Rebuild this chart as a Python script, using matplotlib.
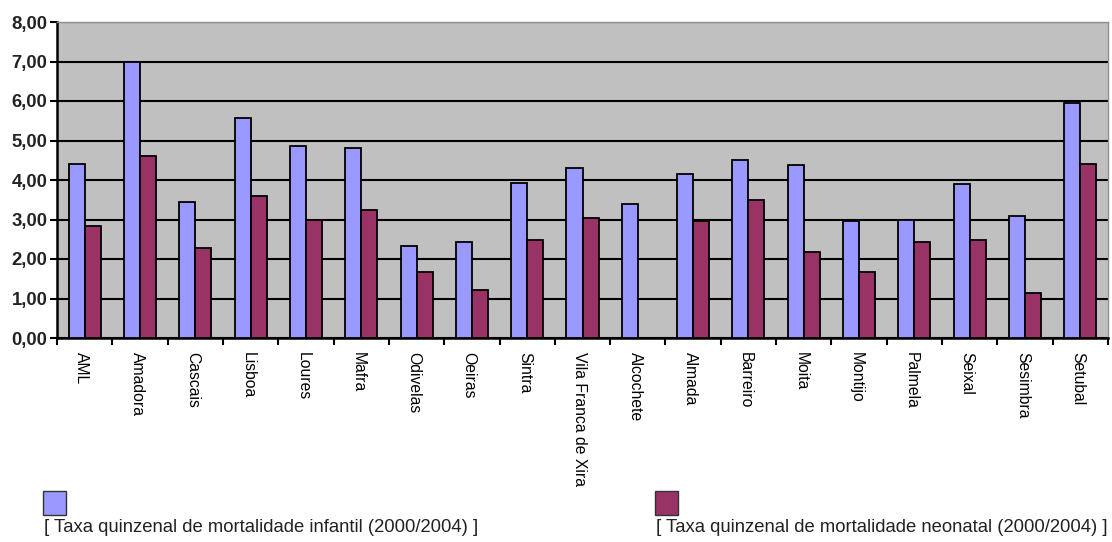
import matplotlib
matplotlib.use("Agg")
import matplotlib.pyplot as plt
from matplotlib.patches import Rectangle
import numpy as np

categories = ["AML", "Amadora", "Cascais", "Lisboa", "Loures", "Mafra", "Odivelas",
              "Oeiras", "Sintra", "Vila Franca de Xira", "Alcochete", "Almada",
              "Barreiro", "Moita", "Montijo", "Palmela", "Seixal", "Sesimbra", "Setubal"]
infantil = [4.41, 7.00, 3.44, 5.58, 4.87, 4.82, 2.32, 2.43, 3.93, 4.31, 3.39, 4.15,
            4.50, 4.37, 2.95, 2.98, 3.90, 3.08, 5.95]
neonatal = [2.83, 4.62, 2.28, 3.59, 2.99, 3.24, 1.67, 1.21, 2.48, 3.03, 0.0, 2.95,
            3.49, 2.18, 1.67, 2.43, 2.48, 1.15, 4.41]
yticks = [0, 1, 2, 3, 4, 5, 6, 7, 8]
ytick_labels = ["0,00", "1,00", "2,00", "3,00", "4,00", "5,00", "6,00", "7,00", "8,00"]
legend_labels = ["[ Taxa quinzenal de mortalidade infantil (2000/2004) ]",
                 "[ Taxa quinzenal de mortalidade neonatal (2000/2004) ]"]

plt.rcParams['font.family'] = ['Liberation Sans', 'DejaVu Sans']

W, H = 1112, 542
fig = plt.figure(figsize=(W / 100, H / 100), dpi=100)
ax = fig.add_axes([57 / W, 1 - 338 / H, (1108 - 57) / W, (338 - 22) / H])
ax.set_facecolor("#C0C0C0")

blue = "#9999FF"
red = "#993366"
n = len(categories)
x = np.arange(n)
bw = 0.29
ax.bar(x - bw / 2, infantil, bw, color=blue, edgecolor="black", linewidth=1.3, zorder=3)
ax.bar(x + bw / 2, neonatal, bw, color=red, edgecolor="black", linewidth=1.3, zorder=3)

ax.set_xlim(-0.5, n - 0.5)
ax.set_ylim(0, 8)
ax.set_yticks(yticks)
ax.set_yticklabels(ytick_labels, fontsize=13.3, fontweight="bold", color="#222222")
ax.yaxis.grid(True, color="black", linewidth=1.5, zorder=1)
ax.set_axisbelow(True)

ax.set_xticks(np.arange(n + 1) - 0.5, minor=False)
ax.set_xticklabels([])
ax.set_xticks(x - 0.05, minor=True)
ax.set_xticklabels(categories, minor=True, rotation=-90, fontsize=11.3, va="top", ha="center")
ax.tick_params(axis="x", which="minor", length=0, pad=10)
ax.tick_params(axis="x", which="major", length=5, width=1.5, direction="out")
ax.tick_params(axis="y", length=5, width=1.5, direction="out", pad=2)

for s in ["left", "bottom"]:
    ax.spines[s].set_color("black")
    ax.spines[s].set_linewidth(1.8)
for s in ["top", "right"]:
    ax.spines[s].set_color("#909090")
    ax.spines[s].set_linewidth(1.0)

# legend
for (lx, col, lab) in [(43, blue, legend_labels[0]), (655, red, legend_labels[1])]:
    fig.patches.append(Rectangle((lx / W, 1 - 515 / H), 23 / W, 24 / H,
                                 transform=fig.transFigure, facecolor=col,
                                 edgecolor="#333333", linewidth=1.0))
    fig.text((lx + 0.5) / W, 1 - 528 / H, lab, fontsize=13.3, va="center", ha="left",
             color="#222222")

fig.savefig("out.png", dpi=100)
